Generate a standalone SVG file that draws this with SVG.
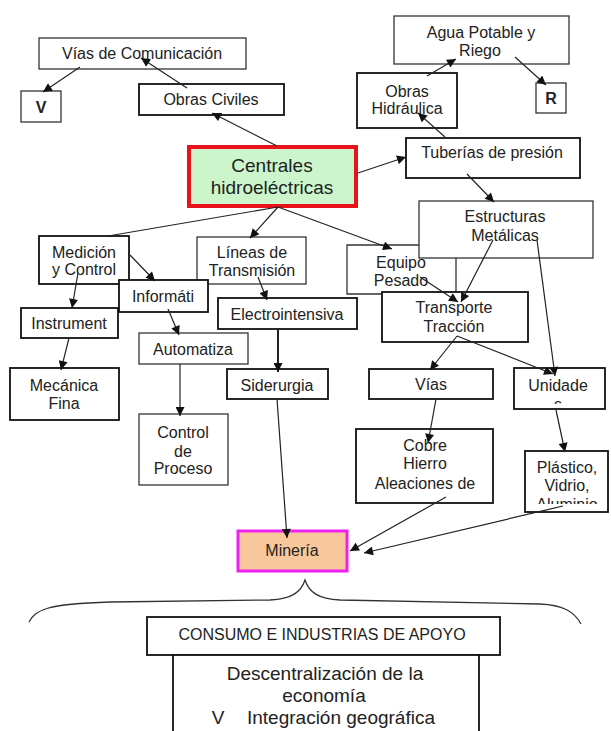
<svg xmlns="http://www.w3.org/2000/svg" width="611" height="731" viewBox="0 0 611 731">
<defs>
<style>
.b{fill:#fff;stroke:#333;stroke-width:1.3}
.bk{fill:#fff;stroke:#111;stroke-width:1.8}
.t{font-family:"Liberation Sans",Arial,sans-serif;font-size:16px;fill:#222;text-anchor:middle;dominant-baseline:central}
.big{font-size:19px}
.bold{font-weight:bold}
.c{fill:none;stroke:#222;stroke-width:1.2}
.a{marker-end:url(#ah)}
</style>
<marker id="ah" viewBox="0 0 10 10" refX="10" refY="5" markerWidth="10" markerHeight="9" markerUnits="userSpaceOnUse" orient="auto">
<path d="M0,0 L10,5 L0,10 z" fill="#111"/>
</marker>
<clipPath id="clipU"><rect x="514" y="368" width="91" height="36"/></clipPath>
<clipPath id="clipP"><rect x="525" y="451" width="83" height="53"/></clipPath>
</defs>
<rect width="611" height="731" fill="#fff"/>

<g id="vias-comunicacion"><rect class="b" x="39" y="38" width="207" height="31"/><text class="t" x="142" y="53">Vías de Comunicación</text></g>
<g id="v-top"><rect class="b" x="21" y="91" width="40" height="31"/><text class="t bold" x="41" y="107">V</text></g>
<g id="obras-civiles"><rect class="bk" x="139" y="84" width="145" height="31"/><text class="t" x="211" y="99">Obras Civiles</text></g>
<g id="agua-potable"><rect class="b" x="394" y="16" width="175" height="48"/><text class="t" x="481" y="32">Agua Potable y</text><text class="t" x="480" y="50">Riego</text></g>
<g id="obras-hidraulica"><rect class="bk" x="357" y="73" width="100" height="55"/><text class="t" x="407" y="91">Obras</text><text class="t" x="407" y="108">Hidráulica</text></g>
<g id="r"><rect class="b" x="536" y="83" width="30" height="30"/><text class="t bold" x="551" y="98">R</text></g>
<g id="tuberias"><rect class="bk" x="406" y="138" width="174" height="40"/><text class="t" x="492" y="152">Tuberías de presión</text></g>
<g id="centrales"><rect x="189" y="147" width="167" height="59" fill="#ccf5cc" stroke="#e8121b" stroke-width="4"/><text class="t big" x="272" y="165">Centrales</text><text class="t big" x="272" y="187">hidroeléctricas</text></g>
<g id="medicion"><rect class="bk" x="39" y="236" width="90" height="48"/><text class="t" x="84" y="252">Medición</text><text class="t" x="84" y="269">y Control</text></g>
<g id="lineas"><rect class="b" x="197" y="237" width="109" height="47"/><text class="t" x="252" y="252">Líneas de</text><text class="t" x="252" y="270">Transmisión</text></g>
<g id="informati"><rect class="bk" x="119" y="280" width="89" height="32"/><text class="t" x="163" y="296">Informáti</text></g>
<g id="instrument"><rect class="bk" x="21" y="308" width="97" height="30"/><text class="t" x="69" y="323">Instrument</text></g>
<g id="mecanica"><rect class="bk" x="10" y="368" width="109" height="52"/><text class="t" x="64" y="385">Mecánica</text><text class="t" x="64" y="403">Fina</text></g>
<g id="automatiza"><rect class="b" x="139" y="333" width="109" height="31"/><text class="t" x="193" y="349">Automatiza</text></g>
<g id="control"><rect class="b" x="139" y="414" width="89" height="71"/><text class="t" x="183" y="432">Control</text><text class="t" x="183" y="451">de</text><text class="t" x="183" y="468">Proceso</text></g>
<g id="electrointensiva"><rect class="bk" x="218" y="298" width="139" height="31"/><text class="t" x="287" y="314">Electrointensiva</text></g>
<g id="siderurgia"><rect class="bk" x="227" y="369" width="101" height="30"/><text class="t" x="277" y="385">Siderurgia</text></g>
<g id="estructuras"><rect class="b" x="419" y="201" width="174" height="57"/><text class="t" x="505" y="216">Estructuras</text><text class="t" x="505" y="235">Metálicas</text></g>
<g id="equipo"><path d="M419,245 H347 V294 H382 M456,258 V292" fill="none" stroke="#333" stroke-width="1.3"/><text class="t" x="401" y="262">Equipo</text><text class="t" x="401" y="280">Pesado</text></g>
<g id="transporte"><rect class="bk" x="382" y="292" width="146" height="50"/><text class="t" x="454" y="307">Transporte</text><text class="t" x="454" y="326">Tracción</text></g>
<g id="vias"><rect class="bk" x="369" y="369" width="124" height="30"/><text class="t" x="431" y="384">Vías</text></g>
<g id="unidade"><rect class="bk" x="514" y="368" width="91" height="41"/><text class="t" x="558" y="385">Unidade</text><text class="t" x="558" y="404" clip-path="url(#clipU)">s</text></g>
<g id="cobre"><rect class="bk" x="356" y="429" width="137" height="74"/><text class="t" x="425" y="445">Cobre</text><text class="t" x="425" y="463">Hierro</text><text class="t" x="425" y="483">Aleaciones de</text></g>
<g id="plastico"><rect class="bk" x="525" y="451" width="83" height="61"/><text class="t" x="567" y="467">Plástico,</text><text class="t" x="567" y="485">Vidrio,</text><text class="t" x="567" y="504" clip-path="url(#clipP)">Aluminio</text></g>
<g id="mineria"><rect x="238" y="531" width="109" height="40" fill="#f8c89c" stroke="#ee22ee" stroke-width="3"/><text class="t" x="292" y="550">Minería</text></g>
<g id="llave"><path d="M29,622 C36,610 45,604 110,602 L270,600 C292,599 301,592 305,580 C309,592 318,599 340,600 L540,604 C562,605 574,611 581,624" fill="none" stroke="#333" stroke-width="1.3"/></g>
<g id="consumo"><rect class="bk" x="147" y="617" width="353" height="38"/><text class="t" x="322" y="634">CONSUMO E INDUSTRIAS DE APOYO</text></g>
<g id="descentralizacion"><rect class="bk" x="173" y="655" width="306" height="90"/><text class="t big" x="325" y="673">Descentralización de la</text><text class="t big" x="324" y="695">economía</text><text class="t big" x="218" y="717">V</text><text class="t big" x="341" y="717">Integración geográfica</text></g>

<g id="connectors">
<line class="c a" x1="80" y1="67" x2="43" y2="92"/>
<line class="c a" x1="187" y1="88" x2="141" y2="58"/>
<line class="c a" x1="277" y1="146" x2="212" y2="113"/>
<line class="c a" x1="427" y1="76" x2="456" y2="59"/>
<line class="c a" x1="515" y1="57" x2="546" y2="85"/>
<line class="c a" x1="445" y1="137" x2="418" y2="113"/>
<line class="c a" x1="358" y1="173" x2="406" y2="157"/>
<line class="c a" x1="467" y1="174" x2="494" y2="202"/>
<line class="c" x1="278" y1="207" x2="108" y2="236"/>
<line class="c a" x1="278" y1="207" x2="250" y2="238"/>
<line class="c a" x1="278" y1="207" x2="392" y2="249"/>
<line class="c a" x1="130" y1="255" x2="155" y2="281"/>
<line class="c a" x1="78" y1="273" x2="72" y2="308"/>
<line class="c a" x1="258" y1="277" x2="267" y2="300"/>
<line class="c a" x1="69" y1="338" x2="61" y2="370"/>
<line class="c a" x1="168" y1="309" x2="179" y2="335"/>
<line class="c a" x1="180" y1="364" x2="180" y2="416"/>
<line class="c a" x1="278" y1="329" x2="278" y2="372" style="stroke-width:2"/>
<line class="c a" x1="277" y1="399" x2="287" y2="538"/>
<line class="c a" x1="493" y1="240" x2="461" y2="302"/>
<line class="c a" x1="420" y1="277" x2="458" y2="302"/>
<line class="c a" x1="537" y1="240" x2="555" y2="376"/>
<line class="c a" x1="457" y1="336" x2="430" y2="370"/>
<line class="c a" x1="457" y1="336" x2="553" y2="374"/>
<line class="c a" x1="436" y1="399" x2="428" y2="443"/>
<line class="c a" x1="556" y1="410" x2="565" y2="452"/>
<line class="c a" x1="446" y1="497" x2="350" y2="551"/>
<line class="c a" x1="563" y1="506" x2="364" y2="553"/>
</g>
</svg>
